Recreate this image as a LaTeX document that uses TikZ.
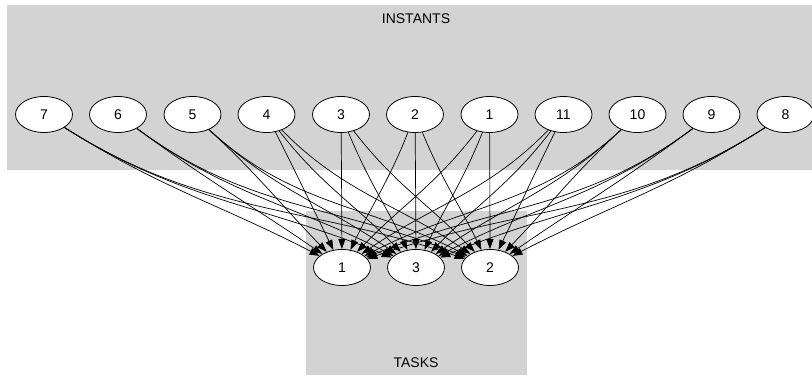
\documentclass[tikz,border=0pt]{standalone}
\usepackage{fontspec}
\setmainfont{Liberation Sans}
\usetikzlibrary{arrows.meta,shapes.geometric}
\definecolor{clustergray}{HTML}{D3D3D3}
\tikzset{
  x=1pt, y=1pt,
  cluster/.style={fill=clustergray, draw=none},
  state/.style={ellipse, draw=black, fill=white, line width=0.8pt,
    minimum width=57pt, minimum height=36pt, inner sep=0pt,
    font=\fontsize{14}{16}\selectfont},
  caption/.style={font=\fontsize{14}{16}\selectfont},
  edge/.style={draw=black, line width=0.7pt,
    -{Triangle[length=10pt,width=7pt]}},
}
\begin{document}
\begin{tikzpicture}
\useasboundingbox (0,0) rectangle (812,377);
% clusters
\fill[cluster] (7,207) rectangle (812,372);
\fill[cluster] (306,2) rectangle (527,166);
\node[caption] (instlbl) at (416,358) {INSTANTS};
\node[caption] (tasklbl) at (416,14) {TASKS};
% instants
\foreach \n/\px in {7/44,6/118,5/192.5,4/266.5,3/341,2/415,1/489.5,11/563.5,10/637.5,9/711.5,8/785.5}
  \node[state] (i\n) at (\px,262.5) {\n};
% tasks
\foreach \n/\px in {1/342,3/416,2/490}
  \node[state] (k\n) at (\px,109.5) {\n};
% every instant feeds every task; far instants share one exit direction
\foreach \s/\sx in {7/44,6/118,5/192.5,4/266.5,3/341,2/415,1/489.5,11/563.5,10/637.5,9/711.5,8/785.5}
  \foreach \t/\tx in {1/342,3/416,2/490} {
    \pgfmathsetmacro\ch{atan2(109.5-262.5,\tx-\sx)}
    \pgfmathsetmacro\cm{atan2(109.5-262.5,416-\sx)}
    \pgfmathsetmacro\w{max(0,min(1,(abs(416-\sx)-120)/100))}
    \pgfmathsetmacro\oa{-90+0.85*((1-\w)*\ch+\w*\cm+90)}
    \pgfmathsetmacro\ia{\ch+180}
    \draw[edge] (i\s) to[out=\oa,in=\ia] (k\t);
  }
\end{tikzpicture}
\end{document}
